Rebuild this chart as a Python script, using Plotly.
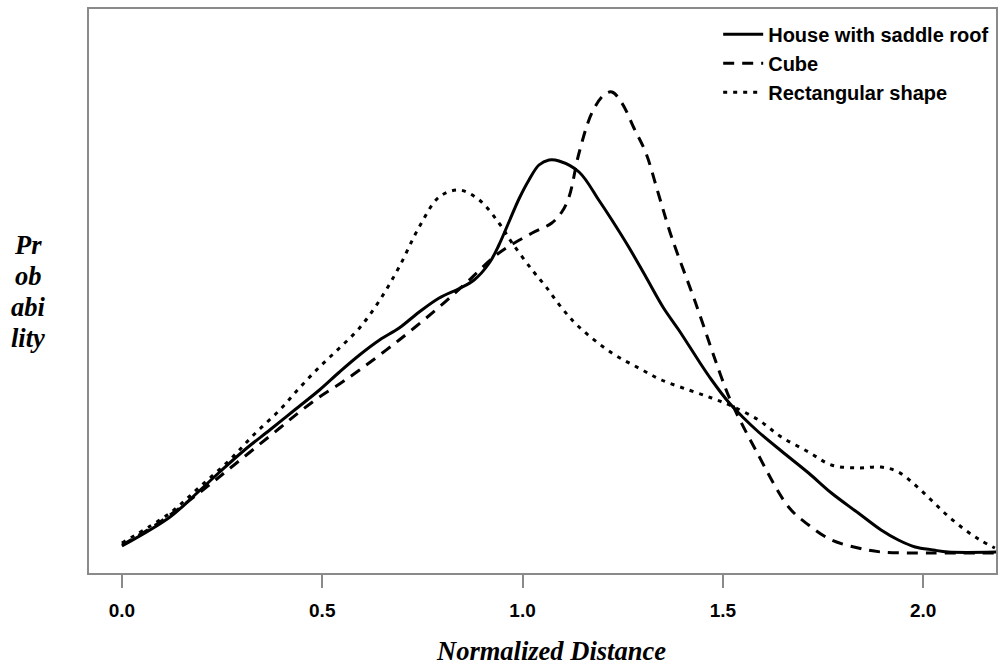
import plotly.graph_objects as go

# Normalized distance samples and estimated probability density values
house_x = [0.000, 0.120, 0.182, 0.244, 0.306, 0.369, 0.431, 0.493, 0.543, 0.593, 0.643,
           0.692, 0.742, 0.792, 0.842, 0.879, 0.917, 0.941, 0.966, 0.991, 1.016, 1.041, 1.066,
           1.091, 1.141, 1.191, 1.223, 1.265, 1.308, 1.352, 1.390, 1.440, 1.472, 1.514, 1.552,
           1.589, 1.646, 1.714, 1.771, 1.838, 1.895, 1.938, 1.980, 2.025, 2.062, 2.187]
house_y = [0.028, 0.144, 0.232, 0.324, 0.412, 0.492, 0.572, 0.652, 0.724, 0.792, 0.852,
           0.900, 0.964, 1.020, 1.058, 1.092, 1.160, 1.232, 1.324, 1.416, 1.492, 1.552, 1.572,
           1.568, 1.524, 1.410, 1.332, 1.224, 1.104, 0.980, 0.892, 0.768, 0.692, 0.604, 0.540,
           0.484, 0.408, 0.320, 0.240, 0.160, 0.092, 0.052, 0.024, 0.012, 0.004, 0.004]

cube_x = [0.000, 0.095, 0.202, 0.286, 0.394, 0.443, 0.493, 0.543, 0.593, 0.692, 0.792, 0.859,
          0.941, 1.024, 1.073, 1.098, 1.116, 1.141, 1.173, 1.203, 1.223, 1.248, 1.278, 1.308,
          1.340, 1.372, 1.432, 1.497, 1.522, 1.582, 1.664, 1.714, 1.771, 1.838, 1.895, 2.020,
          2.187]
cube_y = [0.032, 0.124, 0.252, 0.360, 0.500, 0.564, 0.624, 0.676, 0.732, 0.852, 0.984, 1.080,
          1.200, 1.280, 1.320, 1.364, 1.424, 1.600, 1.760, 1.832, 1.844, 1.800, 1.700, 1.600,
          1.432, 1.264, 1.000, 0.700, 0.600, 0.412, 0.184, 0.112, 0.052, 0.020, 0.004, 0.000,
          0.000]

rect_x = [0.000, 0.120, 0.194, 0.269, 0.331, 0.394, 0.443, 0.493, 0.543, 0.593, 0.643, 0.692,
          0.742, 0.792, 0.842, 0.892, 0.941, 0.974, 1.024, 1.059, 1.098, 1.141, 1.223, 1.290,
          1.347, 1.415, 1.472, 1.522, 1.589, 1.646, 1.714, 1.771, 1.838, 1.895, 1.938, 1.980,
          2.020, 2.062, 2.105, 2.142, 2.179]
rect_y = [0.040, 0.160, 0.264, 0.372, 0.476, 0.572, 0.660, 0.744, 0.820, 0.900, 1.010, 1.144,
          1.304, 1.424, 1.452, 1.412, 1.320, 1.240, 1.132, 1.064, 0.980, 0.904, 0.800, 0.740,
          0.692, 0.652, 0.620, 0.588, 0.532, 0.464, 0.404, 0.352, 0.340, 0.344, 0.324, 0.272,
          0.212, 0.148, 0.092, 0.052, 0.020]

names = ["House with saddle roof", "Cube", "Rectangular shape"]
tick_vals = [0.0, 0.5, 1.0, 1.5, 2.0]
tick_text = ["0.0", "0.5", "1.0", "1.5", "2.0"]
x_title = "Normalized Distance"
y_title_lines = ["Pr", "ob", "abi", "lity"]

fig = go.Figure()
fig.add_trace(go.Scatter(x=house_x, y=house_y, mode="lines", name=names[0],
                         line=dict(color="black", width=3, shape="spline", smoothing=1.0)))
fig.add_trace(go.Scatter(x=cube_x, y=cube_y, mode="lines", name=names[1],
                         line=dict(color="black", width=3, dash="11px,8px", shape="spline", smoothing=1.0)))
fig.add_trace(go.Scatter(x=rect_x, y=rect_y, mode="lines", name=names[2],
                         line=dict(color="black", width=3, dash="4px,6px", shape="spline", smoothing=1.0)))

sans = "Liberation Sans, Arial, sans-serif"
serif = "Liberation Serif, Times New Roman, serif"

annotations = [
    dict(text="<b><i>%s</i></b>" % x_title, xref="paper", yref="paper",
         x=0.509, y=-0.138, xanchor="center", yanchor="middle", showarrow=False,
         font=dict(family=serif, size=26.5, color="black")),
]
y_line_pos = [0.5816, 0.5266, 0.4716, 0.4167]
for txt, yp in zip(y_title_lines, y_line_pos):
    annotations.append(dict(text="<b><i>%s</i></b>" % txt, xref="paper", yref="paper",
                            x=-0.067, y=yp, xanchor="center", yanchor="middle",
                            showarrow=False,
                            font=dict(family=serif, size=26.5, color="black")))

fig.update_layout(
    width=1000, height=666,
    margin=dict(l=89, r=2, t=9, b=93),
    paper_bgcolor="white", plot_bgcolor="white",
    showlegend=True,
    legend=dict(x=0.998, y=0.99, xanchor="right", yanchor="top",
                bgcolor="rgba(0,0,0,0)", borderwidth=0,
                font=dict(family=sans, size=20, color="black", weight=700),
                tracegroupgap=0, itemwidth=40),
    xaxis=dict(range=[-0.0822, 2.1818], showgrid=False, zeroline=False,
               showline=True, mirror=True, linecolor="#8a8a8a", linewidth=1.5,
               ticks="outside", ticklen=13, tickcolor="#8a8a8a", tickwidth=1.5,
               tickvals=tick_vals, ticktext=tick_text, ticklabelstandoff=6,
               tickfont=dict(family=sans, size=19, color="black", weight=700)),
    yaxis=dict(range=[-0.08, 2.176], showgrid=False, zeroline=False,
               showline=True, mirror=True, linecolor="#8a8a8a", linewidth=1.5,
               showticklabels=False, ticks=""),
    annotations=annotations,
)

fig.write_html("out.html", config={"displayModeBar": False},
               post_script="document.body.style.margin='0';document.body.style.overflow='hidden';")
